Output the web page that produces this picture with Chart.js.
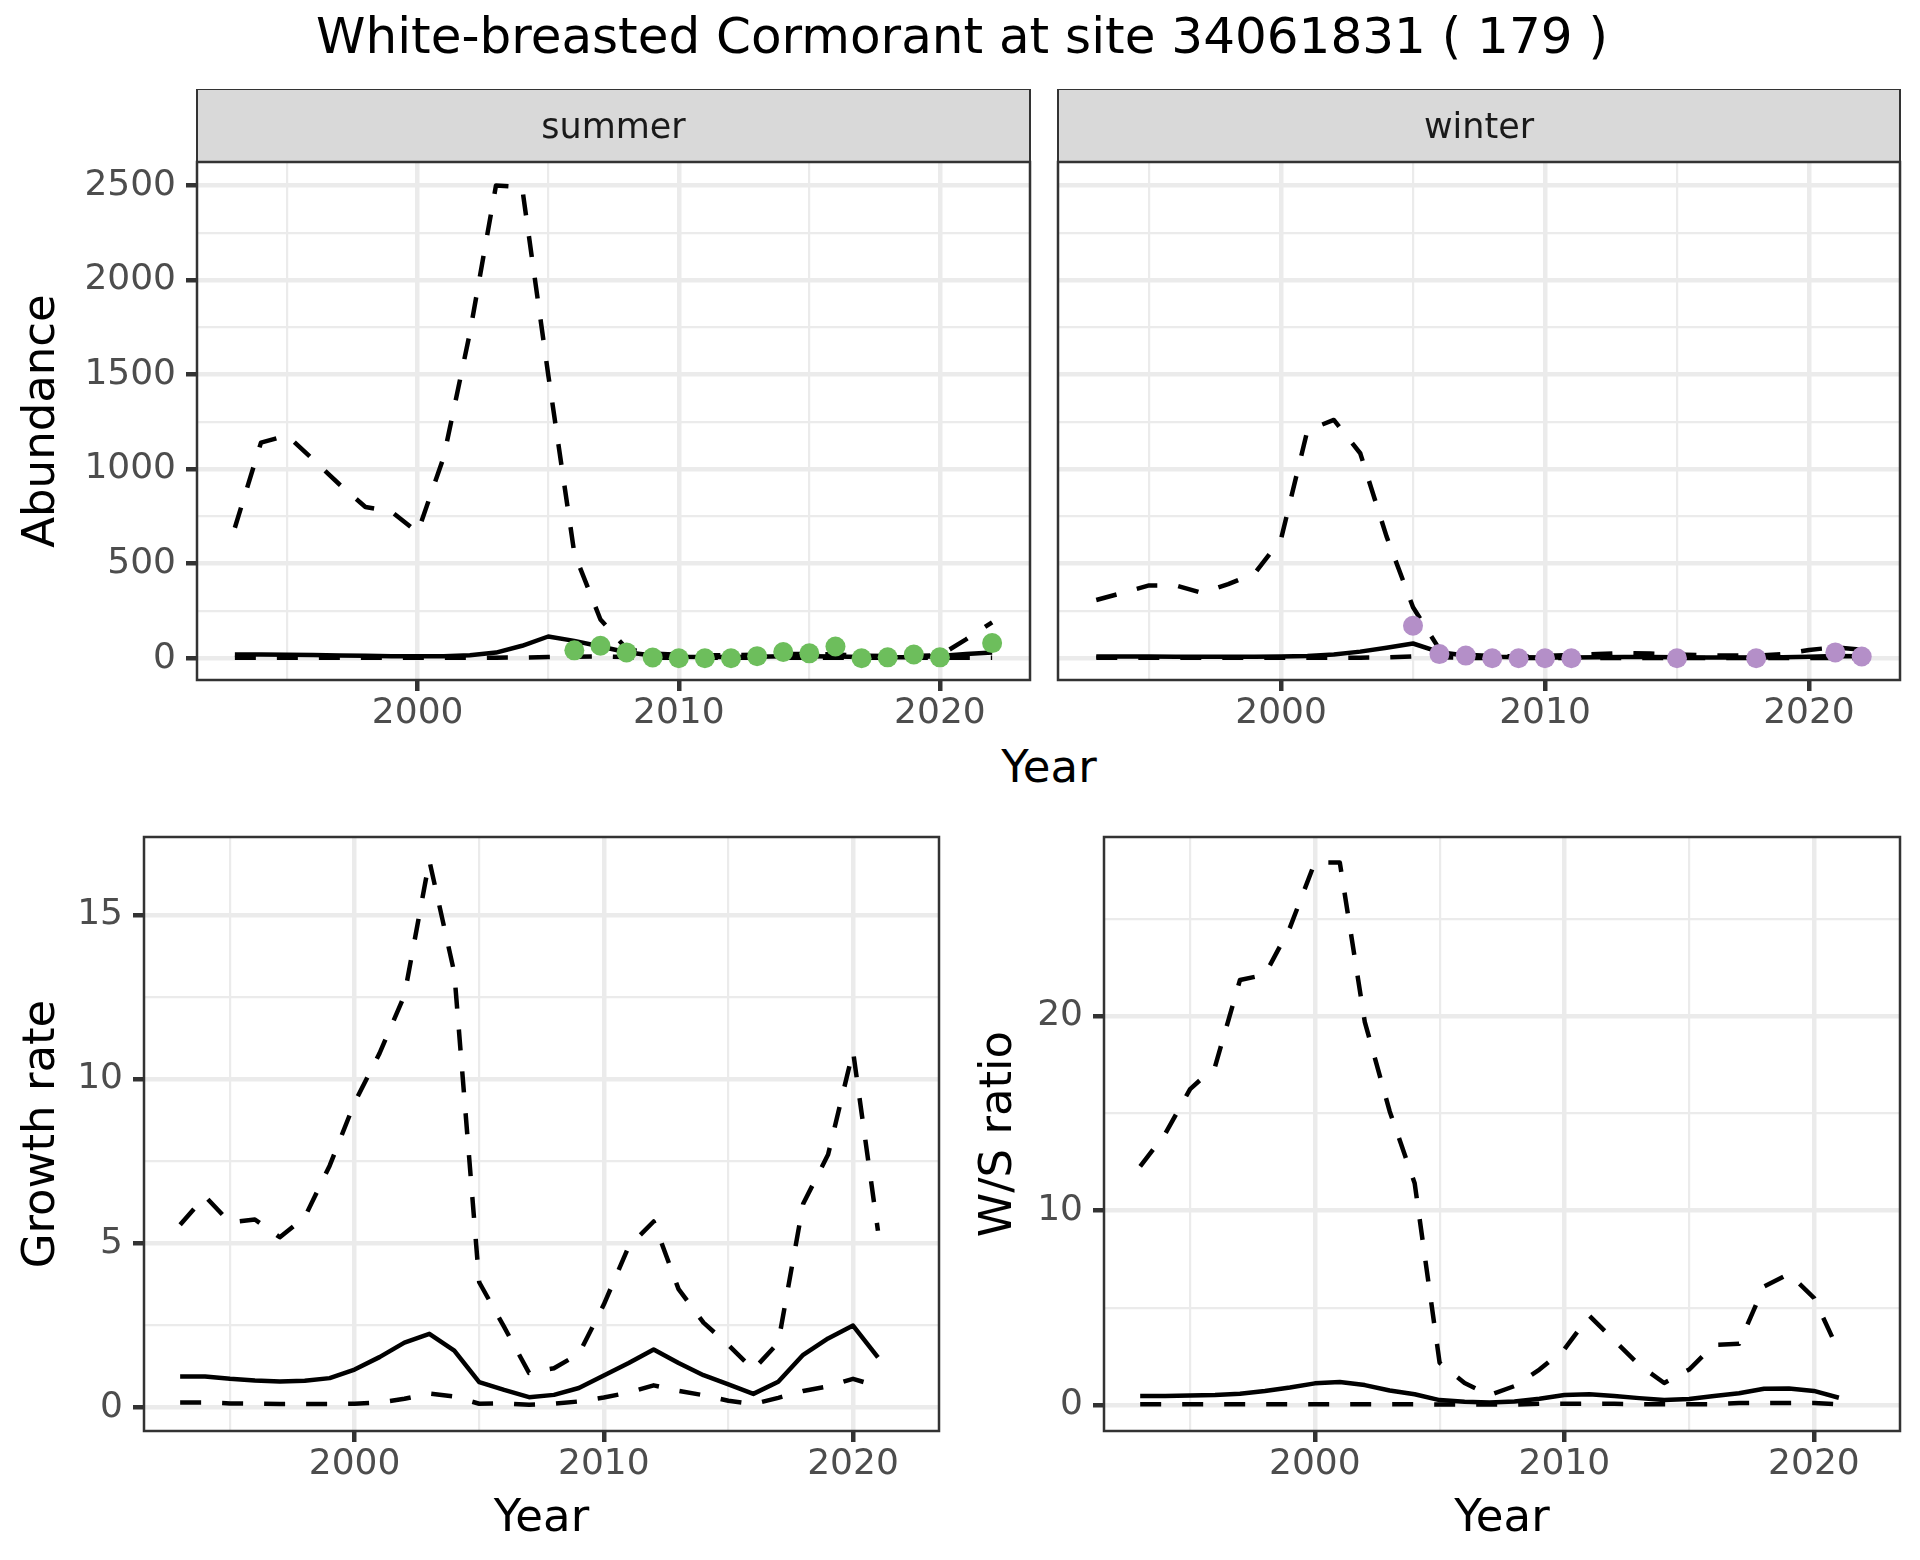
<!DOCTYPE html>
<html>
<head>
<meta charset="utf-8">
<script src="https://cdn.jsdelivr.net/npm/chart.js@4.4.0/dist/chart.umd.min.js"></script>
<style>
    html, body { margin: 0; padding: 0; background: #ffffff; }
    body { width: 1920px; height: 1560px; position: relative; overflow: hidden; font-family: 'DejaVu Sans', sans-serif; }
    canvas { position: absolute; }
    .lbl { position: absolute; white-space: nowrap; transform: translate(-50%, -50%); line-height: 1; color: #000; }
</style>
</head>
<body>
<div class="lbl" style="left:962px; top:36px; font-size:50px;">White-breasted Cormorant at site 34061831 ( 179 )</div>
<div class="lbl" style="left:1049px; top:766px; font-size:45px;">Year</div>

<canvas id="summerChart" width="1040" height="651" style="left:0px; top:89px;"></canvas>
<canvas id="winterChart" width="880" height="651" style="left:1040px; top:89px;"></canvas>
<canvas id="growthChart" width="960" height="760" style="left:0px; top:800px;"></canvas>
<canvas id="ratioChart" width="963" height="760" style="left:957px; top:800px;"></canvas>

<script>
// ---- data ----
const years = [1993, 1994, 1995, 1996, 1997, 1998, 1999, 2000, 2001, 2002, 2003, 2004, 2005, 2006, 2007,
               2008, 2009, 2010, 2011, 2012, 2013, 2014, 2015, 2016, 2017, 2018, 2019, 2020, 2021, 2022];

const summerFit   = [20, 20, 19, 17, 15, 13, 11, 10, 11, 16, 30, 66, 115, 92, 62,
                     32, 14, 8, 7, 7, 8, 10, 10, 9, 6, 5, 5, 12, 22, 30];
const summerUpper = [690, 1140, 1178, 1050, 920, 800, 775, 665, 1065, 1720, 2500, 2490, 1500, 555, 205,
                     50, 25, 18, 16, 16, 18, 22, 22, 20, 14, 12, 12, 15, 100, 190];
const summerLower = [2, 2, 2, 2, 2, 2, 2, 2, 2, 2, 3, 4, 6, 8, 10,
                     6, 3, 2, 2, 2, 2, 2, 2, 2, 2, 2, 2, 2, 3, 3];
const summerObsYears = [2006, 2007, 2008, 2009, 2010, 2011, 2012, 2013, 2014, 2015, 2016, 2017, 2018, 2019, 2020, 2022];
const summerObs      = [42, 66, 31, 4, 0, 0, 0, 11, 33, 26, 62, 0, 5, 20, 5, 80];

const winterFit   = [9, 9, 9, 8, 8, 8, 8, 9, 12, 20, 35, 55, 78, 32, 15,
                     8, 5, 4, 4, 5, 6, 6, 5, 4, 4, 4, 5, 8, 12, 10];
const winterUpper = [308, 346, 385, 385, 346, 392, 448, 630, 1205, 1260, 1084, 643, 270, 48, 18,
                     12, 10, 12, 18, 22, 28, 25, 20, 16, 14, 14, 22, 44, 58, 45];
const winterLower = [2, 2, 2, 2, 2, 2, 2, 2, 2, 2, 3, 5, 10, 5, 2,
                     1, 1, 1, 1, 1, 1, 1, 1, 1, 1, 1, 1, 1, 1, 1];
const winterObsYears = [2005, 2006, 2007, 2008, 2009, 2010, 2011, 2015, 2018, 2021, 2022];
const winterObs      = [172, 22, 14, 0, 0, 0, 0, 0, 0, 31, 9];

const rateYears = [1993, 1994, 1995, 1996, 1997, 1998, 1999, 2000, 2001, 2002, 2003, 2004, 2005, 2006, 2007,
                   2008, 2009, 2010, 2011, 2012, 2013, 2014, 2015, 2016, 2017, 2018, 2019, 2020, 2021];

const growthFit   = [0.94, 0.94, 0.87, 0.82, 0.79, 0.81, 0.89, 1.15, 1.53, 1.97, 2.24, 1.73, 0.77, 0.53, 0.31,
                     0.38, 0.59, 0.97, 1.35, 1.76, 1.35, 0.98, 0.70, 0.41, 0.78, 1.60, 2.10, 2.49, 1.52];
const growthUpper = [5.56, 6.43, 5.63, 5.72, 5.18, 5.79, 7.36, 9.28, 10.78, 12.55, 16.65, 13.24, 3.81, 2.45, 1.05,
                     1.19, 1.63, 3.13, 4.90, 5.66, 3.60, 2.58, 1.90, 1.15, 1.97, 6.20, 7.70, 10.85, 5.38];
const growthLower = [0.15, 0.15, 0.12, 0.11, 0.10, 0.10, 0.10, 0.11, 0.15, 0.26, 0.42, 0.33, 0.11, 0.12, 0.08,
                     0.11, 0.18, 0.30, 0.45, 0.67, 0.50, 0.37, 0.20, 0.10, 0.29, 0.50, 0.64, 0.87, 0.64];

const ratioFit   = [0.46, 0.46, 0.48, 0.51, 0.58, 0.72, 0.90, 1.11, 1.18, 1.02, 0.74, 0.55, 0.25, 0.16, 0.12,
                    0.18, 0.32, 0.51, 0.55, 0.46, 0.35, 0.25, 0.30, 0.46, 0.60, 0.83, 0.85, 0.72, 0.37];
const ratioUpper = [12.27, 13.93, 16.24, 17.39, 21.85, 22.12, 24.54, 27.89, 27.89, 19.70, 15.09, 11.40, 2.17, 1.13, 0.50,
                    0.97, 1.82, 2.86, 4.59, 3.32, 2.05, 1.13, 1.82, 3.09, 3.14, 6.09, 6.74, 5.51, 2.75];
const ratioLower = [0.03, 0.03, 0.03, 0.03, 0.03, 0.03, 0.03, 0.03, 0.03, 0.03, 0.03, 0.03, 0.02, 0.02, 0.02,
                    0.02, 0.06, 0.06, 0.06, 0.06, 0.04, 0.04, 0.04, 0.04, 0.10, 0.10, 0.10, 0.10, 0.03];

// ---- ticks ----
const yearTicks = [2000, 2010, 2020];
const yearMinor = [1995, 2005, 2015];
const abundanceTicks = [0, 500, 1000, 1500, 2000, 2500];
const abundanceMinor = [250, 750, 1250, 1750, 2250];
const growthTicks = [0, 5, 10, 15];
const growthMinor = [2.5, 7.5, 12.5];
const ratioTicks = [0, 10, 20];
const ratioMinor = [5, 15, 25];

const FONT = 'DejaVu Sans';
Chart.defaults.font.family = FONT;

function toXY(xs, ys) {
    return xs.map((x, i) => ({ x: x, y: ys[i] }));
}

// panel border + facet strip
const panelFrame = {
    id: 'panelFrame',
    afterDatasetsDraw(chart, args, opts) {
        const ctx = chart.ctx;
        const a = chart.chartArea;
        ctx.save();
        if (opts.strip) {
            const h = 73;
            ctx.fillStyle = '#D9D9D9';
            ctx.fillRect(a.left, a.top - h, a.right - a.left, h);
            ctx.strokeStyle = '#333333';
            ctx.lineWidth = 2;
            ctx.strokeRect(a.left, a.top - h, a.right - a.left, h);
            ctx.fillStyle = '#1A1A1A';
            ctx.font = '35px "' + FONT + '"';
            ctx.textAlign = 'center';
            ctx.textBaseline = 'middle';
            ctx.fillText(opts.strip, (a.left + a.right) / 2, a.top - h / 2 + 3);
        }
        ctx.strokeStyle = '#333333';
        ctx.lineWidth = 2.5;
        ctx.strokeRect(a.left, a.top, a.right - a.left, a.bottom - a.top);
        ctx.restore();
    }
};

function lineSet(xs, ys, dash) {
    return {
        data: toXY(xs, ys),
        borderColor: '#000000',
        borderWidth: 4.5,
        borderDash: dash,
        borderCapStyle: 'butt',
        borderJoinStyle: 'round',
        pointRadius: 0,
        pointHoverRadius: 0,
        tension: 0,
        fill: false
    };
}

function gridOpts(major) {
    return {
        color: '#EBEBEB',
        lineWidth: c => major.includes(c.tick.value) ? 4.5 : 2.2,
        tickLength: 11,
        tickColor: c => major.includes(c.tick.value) ? '#333333' : 'rgba(0,0,0,0)',
        tickWidth: c => major.includes(c.tick.value) ? 4.5 : 0
    };
}

function makePanel(id, cfg) {
    const datasets = [];
    if (cfg.obs) {
        datasets.push({
            data: toXY(cfg.obsYears, cfg.obs),
            showLine: false,
            pointRadius: 10,
            pointHoverRadius: 10,
            pointBackgroundColor: cfg.obsColor,
            pointBorderWidth: 0
        });
    }
    datasets.push(lineSet(cfg.xs, cfg.fit, []));
    datasets.push(lineSet(cfg.xs, cfg.upper, [21, 21]));
    datasets.push(lineSet(cfg.xs, cfg.lower, [21, 21]));

    const yMajor = cfg.yTicks;
    const yAll = cfg.yTicks.concat(cfg.yMinor).sort((a, b) => a - b);
    const xAll = yearTicks.concat(yearMinor).sort((a, b) => a - b);

    return new Chart(document.getElementById(id), {
        type: 'line',
        data: { datasets: datasets },
        options: {
            responsive: false,
            animation: false,
            devicePixelRatio: 1,
            layout: { padding: { left: cfg.padL, right: cfg.padR, top: cfg.padT, bottom: 0 } },
            plugins: {
                legend: { display: false },
                tooltip: { enabled: false },
                panelFrame: { strip: cfg.strip }
            },
            scales: {
                x: {
                    type: 'linear',
                    min: 1991.55,
                    max: 2023.45,
                    bounds: 'data',
                    afterBuildTicks: s => { s.ticks = xAll.map(v => ({ value: v })); },
                    afterFit: s => { s.height = cfg.xh; },
                    border: { display: false },
                    grid: gridOpts(yearTicks),
                    ticks: {
                        autoSkip: false,
                        maxRotation: 0,
                        padding: 1,
                        color: '#4D4D4D',
                        font: { size: 36 },
                        callback: v => yearTicks.includes(v) ? String(v) : ''
                    },
                    title: {
                        display: !!cfg.xTitle,
                        text: cfg.xTitle || '',
                        color: '#000000',
                        font: { size: 45 },
                        padding: { top: 4, bottom: 14 }
                    }
                },
                y: {
                    type: 'linear',
                    min: cfg.yMin,
                    max: cfg.yMax,
                    bounds: 'data',
                    afterBuildTicks: s => { s.ticks = yAll.map(v => ({ value: v })); },
                    afterFit: s => { s.width = cfg.yw; },
                    border: { display: false },
                    grid: Object.assign(gridOpts(yMajor), { drawTicks: cfg.yLabels }),
                    ticks: {
                        display: cfg.yLabels,
                        autoSkip: false,
                        padding: 10,
                        color: '#4D4D4D',
                        font: { size: 36 },
                        callback: v => yMajor.includes(v) ? String(v) : ''
                    },
                    title: {
                        display: !!cfg.yTitle,
                        text: cfg.yTitle || '',
                        color: '#000000',
                        font: { size: 45 },
                        padding: { top: 15, bottom: 0 }
                    }
                }
            }
        },
        plugins: [panelFrame]
    });
}

makePanel('summerChart', {
    xs: years, fit: summerFit, upper: summerUpper, lower: summerLower,
    obsYears: summerObsYears, obs: summerObs, obsColor: '#6DBE5C',
    yTicks: abundanceTicks, yMinor: abundanceMinor, yMin: -115, yMax: 2624,
    yLabels: true, yTitle: 'Abundance', strip: 'summer',
    padL: 0, padR: 1, padT: 73, yw: 197, xh: 60
});

makePanel('winterChart', {
    xs: years, fit: winterFit, upper: winterUpper, lower: winterLower,
    obsYears: winterObsYears, obs: winterObs, obsColor: '#B48FC8',
    yTicks: abundanceTicks, yMinor: abundanceMinor, yMin: -115, yMax: 2624,
    yLabels: false, strip: 'winter',
    padL: 18, padR: 20, padT: 73, yw: 0, xh: 60
});

makePanel('growthChart', {
    xs: rateYears, fit: growthFit, upper: growthUpper, lower: growthLower,
    yTicks: growthTicks, yMinor: growthMinor, yMin: -0.72, yMax: 17.37,
    yLabels: true, yTitle: 'Growth rate', xTitle: 'Year',
    padL: 0, padR: 21, padT: 37, yw: 144, xh: 129
});

makePanel('ratioChart', {
    xs: rateYears, fit: ratioFit, upper: ratioUpper, lower: ratioLower,
    yTicks: ratioTicks, yMinor: ratioMinor, yMin: -1.34, yMax: 29.2,
    yLabels: true, yTitle: 'W/S ratio', xTitle: 'Year',
    padL: 0, padR: 20, padT: 37, yw: 147, xh: 129
});
</script>
</body>
</html>
